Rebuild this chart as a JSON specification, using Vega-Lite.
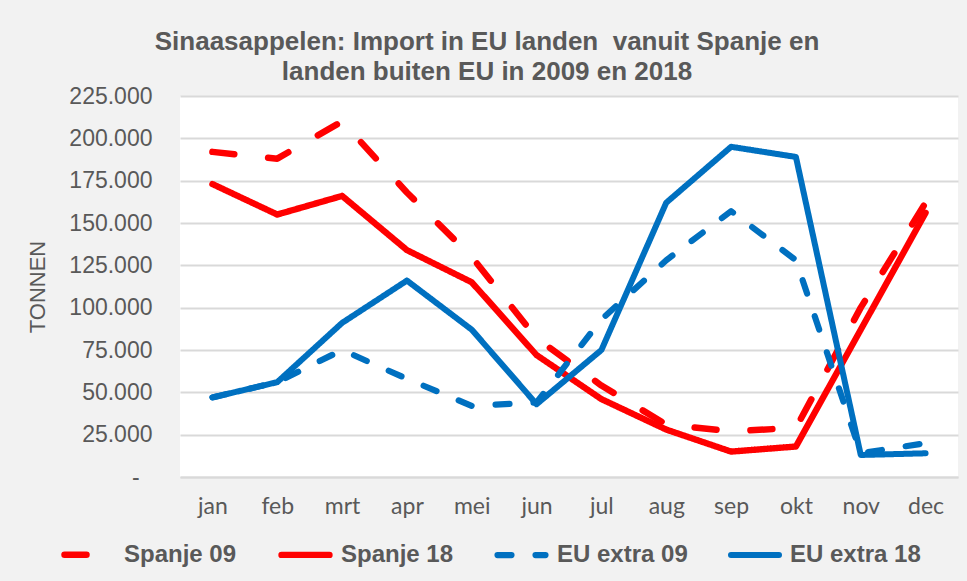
{
  "$schema": "https://vega.github.io/schema/vega-lite/v6.json",
  "width": 778,
  "height": 381,
  "autosize": {"type": "none"},
  "padding": {"left": 180, "top": 96, "right": 9, "bottom": 104},
  "background": "#f2f2f2",
  "title": {
    "text": ["Sinaasappelen: Import in EU landen \u00a0vanuit Spanje en", "landen buiten EU in 2009 en 2018"],
    "font": "Liberation Sans",
    "fontSize": 26,
    "fontWeight": "bold",
    "color": "#595959",
    "lineHeight": 30,
    "anchor": "middle",
    "frame": "group",
    "baseline": "alphabetic",
    "dx": -82,
    "dy": 36,
    "offset": 15
  },
  "data": {
    "values": [
      {"maand": "jan", "serie": "Spanje 09", "tonnen": 192000},
      {"maand": "feb", "serie": "Spanje 09", "tonnen": 188000},
      {"maand": "mrt", "serie": "Spanje 09", "tonnen": 210000},
      {"maand": "apr", "serie": "Spanje 09", "tonnen": 168000},
      {"maand": "mei", "serie": "Spanje 09", "tonnen": 130000},
      {"maand": "jun", "serie": "Spanje 09", "tonnen": 82000},
      {"maand": "jul", "serie": "Spanje 09", "tonnen": 54000},
      {"maand": "aug", "serie": "Spanje 09", "tonnen": 31000},
      {"maand": "sep", "serie": "Spanje 09", "tonnen": 27000},
      {"maand": "okt", "serie": "Spanje 09", "tonnen": 29000},
      {"maand": "nov", "serie": "Spanje 09", "tonnen": 100000},
      {"maand": "dec", "serie": "Spanje 09", "tonnen": 162000},
      {"maand": "jan", "serie": "Spanje 18", "tonnen": 173000},
      {"maand": "feb", "serie": "Spanje 18", "tonnen": 155000},
      {"maand": "mrt", "serie": "Spanje 18", "tonnen": 166000},
      {"maand": "apr", "serie": "Spanje 18", "tonnen": 134000},
      {"maand": "mei", "serie": "Spanje 18", "tonnen": 115000},
      {"maand": "jun", "serie": "Spanje 18", "tonnen": 72000},
      {"maand": "jul", "serie": "Spanje 18", "tonnen": 46000},
      {"maand": "aug", "serie": "Spanje 18", "tonnen": 28000},
      {"maand": "sep", "serie": "Spanje 18", "tonnen": 15000},
      {"maand": "okt", "serie": "Spanje 18", "tonnen": 18000},
      {"maand": "nov", "serie": "Spanje 18", "tonnen": 87000},
      {"maand": "dec", "serie": "Spanje 18", "tonnen": 156000},
      {"maand": "jan", "serie": "EU extra 09", "tonnen": 47000},
      {"maand": "feb", "serie": "EU extra 09", "tonnen": 56000},
      {"maand": "mrt", "serie": "EU extra 09", "tonnen": 75000},
      {"maand": "apr", "serie": "EU extra 09", "tonnen": 58000},
      {"maand": "mei", "serie": "EU extra 09", "tonnen": 42000},
      {"maand": "jun", "serie": "EU extra 09", "tonnen": 44000},
      {"maand": "jul", "serie": "EU extra 09", "tonnen": 93000},
      {"maand": "aug", "serie": "EU extra 09", "tonnen": 128000},
      {"maand": "sep", "serie": "EU extra 09", "tonnen": 157000},
      {"maand": "okt", "serie": "EU extra 09", "tonnen": 128000},
      {"maand": "nov", "serie": "EU extra 09", "tonnen": 14000},
      {"maand": "dec", "serie": "EU extra 09", "tonnen": 20000},
      {"maand": "jan", "serie": "EU extra 18", "tonnen": 47000},
      {"maand": "feb", "serie": "EU extra 18", "tonnen": 56000},
      {"maand": "mrt", "serie": "EU extra 18", "tonnen": 91000},
      {"maand": "apr", "serie": "EU extra 18", "tonnen": 116000},
      {"maand": "mei", "serie": "EU extra 18", "tonnen": 87000},
      {"maand": "jun", "serie": "EU extra 18", "tonnen": 43000},
      {"maand": "jul", "serie": "EU extra 18", "tonnen": 75000},
      {"maand": "aug", "serie": "EU extra 18", "tonnen": 162000},
      {"maand": "sep", "serie": "EU extra 18", "tonnen": 195000},
      {"maand": "okt", "serie": "EU extra 18", "tonnen": 189000},
      {"maand": "nov", "serie": "EU extra 18", "tonnen": 13000},
      {"maand": "dec", "serie": "EU extra 18", "tonnen": 14000}
    ]
  },
  "mark": {"type": "line", "strokeCap": "round", "strokeJoin": "round"},
  "encoding": {
    "x": {
      "field": "maand",
      "type": "ordinal",
      "sort": ["jan", "feb", "mrt", "apr", "mei", "jun", "jul", "aug", "sep", "okt", "nov", "dec"],
      "scale": {"type": "point", "padding": 0.5},
      "axis": {
        "title": null,
        "labelAngle": 0,
        "labelFont": "Lato",
        "labelFontSize": 23,
        "labelColor": "#595959",
        "labelPadding": 18,
        "ticks": false,
        "grid": false,
        "domainColor": "#d9d9d9",
        "domainWidth": 2
      }
    },
    "y": {
      "field": "tonnen",
      "type": "quantitative",
      "scale": {"domain": [0, 225000], "nice": false},
      "axis": {
        "values": [0, 25000, 50000, 75000, 100000, 125000, 150000, 175000, 200000, 225000],
        "labelExpr": "datum.value == 0 ? '-\u00a0\u00a0\u200b' : replace(format(datum.value, ','), ',', '.')",
        "labelFont": "Liberation Sans",
        "labelFontSize": 23,
        "labelColor": "#595959",
        "labelPadding": 28,
        "ticks": false,
        "domain": false,
        "grid": true,
        "gridColor": "#d9d9d9",
        "gridWidth": 2,
        "title": "TONNEN",
        "titleFont": "Liberation Sans",
        "titleFontSize": 22,
        "titleFontWeight": "normal",
        "titleColor": "#595959",
        "titlePadding": 19
      }
    },
    "color": {
      "field": "serie",
      "type": "nominal",
      "scale": {
        "domain": ["Spanje 09", "Spanje 18", "EU extra 09", "EU extra 18"],
        "range": ["#ff0000", "#ff0000", "#0070c0", "#0070c0"]
      },
      "legend": {
        "orient": "none",
        "legendX": -119,
        "legendY": 431,
        "direction": "horizontal",
        "title": null,
        "padding": 0,
        "labelFont": "Liberation Sans",
        "labelFontSize": 24,
        "labelFontWeight": "bold",
        "labelColor": "#595959",
        "labelOffset": 8,
        "columnPadding": 31,
        "symbolType": "stroke",
        "symbolSize": 2304,
        "encode": {"symbols": {"update": {"strokeCap": {"value": "round"}}}}
      }
    },
    "strokeDash": {
      "field": "serie",
      "type": "nominal",
      "scale": {
        "domain": ["Spanje 09", "Spanje 18", "EU extra 09", "EU extra 18"],
        "range": [[22, 34], [1, 0], [14, 24], [1, 0]]
      }
    },
    "strokeWidth": {
      "field": "serie",
      "type": "ordinal",
      "scale": {
        "domain": ["Spanje 09", "Spanje 18", "EU extra 09", "EU extra 18"],
        "range": [6.5, 6, 4.5, 6.5]
      }
    }
  },
  "config": {
    "view": {"fill": "white", "stroke": null}
  }
}
